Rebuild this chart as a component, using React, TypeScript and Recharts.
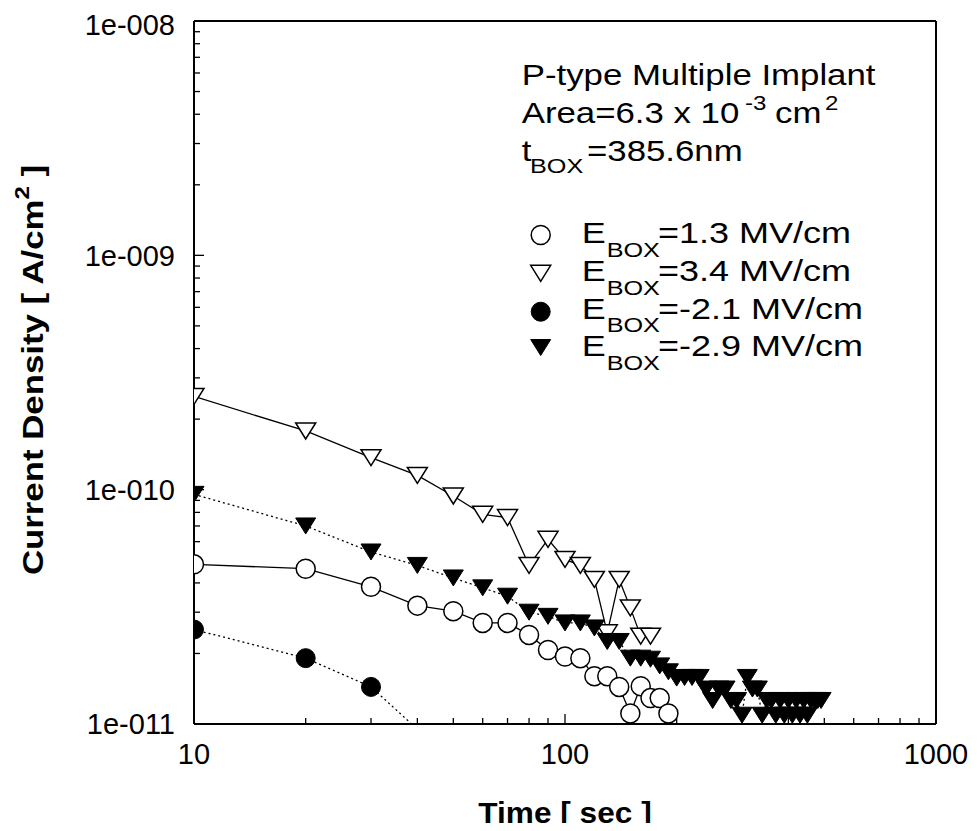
import React from 'react';
import { LineChart, Line, XAxis, YAxis } from 'recharts';

const FONT = '"Liberation Sans", Arial, Helvetica, sans-serif';

// ---- data (time in sec, current density in A/cm^2) ----
const t13 = [10, 20, 30, 40, 50, 60, 70, 80, 90, 100, 110, 120, 130, 140, 150, 160, 170, 180, 190];
const v13 = [4.8e-11, 4.6e-11, 3.85e-11, 3.2e-11, 3.03e-11, 2.7e-11, 2.7e-11, 2.4e-11, 2.07e-11, 1.94e-11,
  1.91e-11, 1.6e-11, 1.6e-11, 1.44e-11, 1.11e-11, 1.45e-11, 1.29e-11, 1.29e-11, 1.11e-11];

const t34 = [10, 20, 30, 40, 50, 60, 70, 80, 90, 100, 110, 120, 130, 140, 150, 160, 170];
const v34 = [2.5e-10, 1.78e-10, 1.37e-10, 1.15e-10, 9.4e-11, 7.85e-11, 7.6e-11, 4.75e-11, 6.14e-11, 5.04e-11,
  4.75e-11, 4.14e-11, 2.45e-11, 4.14e-11, 3.13e-11, 2.37e-11, 2.37e-11];

const tm21 = [10, 20, 30, 40];
const vm21 = [2.53e-11, 1.91e-11, 1.44e-11, 9.5e-12];

const tm29 = [10, 20, 30, 40, 50, 60, 70, 80, 90, 100, 110, 120, 130, 140, 150, 160, 170, 180, 190, 200,
  210, 220, 230, 240, 250, 260, 270, 280, 290, 300, 310, 320, 330, 340, 350, 360, 370, 380, 390, 400,
  410, 420, 430, 440, 450, 460, 470, 480, 490];
const vm29 = [9.55e-11, 7.0e-11, 5.42e-11, 4.75e-11, 4.2e-11, 3.81e-11, 3.51e-11, 3.0e-11, 2.88e-11, 2.7e-11,
  2.7e-11, 2.57e-11, 2.25e-11, 2.25e-11, 1.91e-11, 1.91e-11, 1.89e-11, 1.77e-11, 1.67e-11, 1.57e-11,
  1.58e-11, 1.58e-11, 1.58e-11, 1.41e-11, 1.26e-11, 1.41e-11, 1.41e-11, 1.26e-11, 1.26e-11, 1.09e-11,
  1.58e-11, 1.41e-11, 1.41e-11, 1.09e-11, 1.26e-11, 1.26e-11, 1.09e-11, 1.26e-11, 1.09e-11, 1.26e-11,
  1.09e-11, 1.26e-11, 1.09e-11, 1.26e-11, 1.09e-11, 1.26e-11, 1.26e-11, 1.26e-11, 1.26e-11];

const xDomain = [10, 1000];
const yDomain = [1e-11, 1e-8];
const xTicks = [10, 100, 1000];
const xMajorTicks = [100];
const xMinorTicks = [20, 30, 40, 50, 60, 70, 80, 90, 200, 300, 400, 500, 600, 700, 800, 900];
const yTicks = [1e-11, 1e-10, 1e-9, 1e-8];
const yMajorTicks = [1e-10, 1e-9];
const yMinorTicks = [
  2e-11, 3e-11, 4e-11, 5e-11, 6e-11, 7e-11, 8e-11, 9e-11,
  2e-10, 3e-10, 4e-10, 5e-10, 6e-10, 7e-10, 8e-10, 9e-10,
  2e-9, 3e-9, 4e-9, 5e-9, 6e-9, 7e-9, 8e-9, 9e-9,
];

const legendLabels = ['=1.3 MV/cm', '=3.4 MV/cm', '=-2.1 MV/cm', '=-2.9 MV/cm'];

const rows = (t: number[], v: number[]) => t.map((x, i) => ({ t: x, v: v[i] }));
const d13 = rows(t13, v13);
const d34 = rows(t34, v34);
const dm21 = rows(tm21, vm21);
const dm29 = rows(tm29, vm29);
const frameData = rows(xDomain, yDomain);

// ---- marker shapes ----
const triPts = (cx: number, cy: number) => `${cx - 10},${cy - 8} ${cx + 10},${cy - 8} ${cx},${cy + 8}`;

const shapeOpenCircle = (cx: number, cy: number, key?: any) => (
  <circle key={key} cx={cx} cy={cy} r={9.5} fill="#fff" stroke="#000" strokeWidth={1.5} />
);
const shapeFilledCircle = (cx: number, cy: number, key?: any) => (
  <circle key={key} cx={cx} cy={cy} r={9.5} fill="#000" stroke="#000" strokeWidth={1} />
);
const shapeOpenTri = (cx: number, cy: number, key?: any) => (
  <polygon key={key} points={triPts(cx, cy)} fill="#fff" stroke="#000" strokeWidth={1.5} strokeLinejoin="miter" />
);
const shapeFilledTri = (cx: number, cy: number, key?: any) => (
  <polygon key={key} points={triPts(cx, cy)} fill="#000" stroke="#000" strokeWidth={1} />
);

const makeDot = (fn: (cx: number, cy: number, key?: any) => React.ReactElement) => (p: any) => {
  const { cx, cy, index, payload } = p;
  if (cx == null || cy == null || isNaN(cx) || isNaN(cy) || (payload && payload.v < yDomain[0])) {
    return <g key={`e${index}`} />;
  }
  return fn(cx, cy, `d${index}`);
};

const yFmt = (v: number) => {
  const e = Math.round(Math.log10(v));
  return `1e-${String(-e).padStart(3, '0')}`;
};
const blank = () => '';

const W = 969;
const H = 815;
const SX = 1.2;

const tickStyle = { fontSize: 29, fill: '#000', fontFamily: FONT };
const noLabel = { fontSize: 1, fill: 'none' };

const ST = ({ x, y, size, sx = SX, children, ...rest }: any) => (
  <g transform={`translate(${x} ${y}) scale(${sx} 1)`}>
    <text x={0} y={0} fontSize={size} fill="#000" {...rest}>{children}</text>
  </g>
);

const tickLineStyle = { stroke: '#000', strokeWidth: 1.3 };

export default function App() {
  const legendSymbols = [shapeOpenCircle, shapeOpenTri, shapeFilledCircle, shapeFilledTri];
  const symY = [227, 265.3, 303.7, 339.5];
  const rowBase = [235, 273, 310.5, 348];
  return (
    <div style={{ position: 'relative', width: W, height: H, fontFamily: FONT }}>
      <LineChart width={W} height={H} margin={{ top: 13, right: 41, left: 106, bottom: 39 }}>
        <XAxis xAxisId="x" dataKey="t" type="number" scale="log" domain={xDomain} allowDataOverflow
          ticks={xTicks} tickFormatter={(v: number) => String(v)} tick={tickStyle} tickLine={false}
          tickSize={6} tickMargin={13} axisLine={{ stroke: '#000', strokeWidth: 2 }} height={60} />
        <XAxis xAxisId="xminor" dataKey="t" type="number" scale="log" domain={xDomain} allowDataOverflow
          ticks={xMinorTicks} mirror tick={noLabel} tickFormatter={blank} tickSize={5} tickLine={tickLineStyle}
          axisLine={false} height={1} />
        <XAxis xAxisId="xmajor" dataKey="t" type="number" scale="log" domain={xDomain} allowDataOverflow
          ticks={xMajorTicks} mirror tick={noLabel} tickFormatter={blank} tickSize={10} tickLine={tickLineStyle}
          axisLine={false} height={1} />
        <XAxis xAxisId="xtop" dataKey="t" orientation="top" type="number" scale="log" domain={xDomain} allowDataOverflow
          ticks={xTicks} mirror tick={false} tickLine={false} axisLine={{ stroke: '#000', strokeWidth: 2 }} height={1} />
        <YAxis yAxisId="y" type="number" scale="log" domain={yDomain} allowDataOverflow ticks={yTicks}
          tickFormatter={yFmt} tick={tickStyle} tickLine={false} tickSize={6} tickMargin={13}
          axisLine={{ stroke: '#000', strokeWidth: 2 }} width={80} />
        <YAxis yAxisId="yminor" type="number" scale="log" domain={yDomain} allowDataOverflow ticks={yMinorTicks}
          mirror tick={noLabel} tickFormatter={blank} tickSize={5} tickLine={tickLineStyle} axisLine={false} width={1} />
        <YAxis yAxisId="ymajor" type="number" scale="log" domain={yDomain} allowDataOverflow ticks={yMajorTicks}
          mirror tick={noLabel} tickFormatter={blank} tickSize={10} tickLine={tickLineStyle} axisLine={false} width={1} />
        <YAxis yAxisId="yright" orientation="right" type="number" scale="log" domain={yDomain} allowDataOverflow
          ticks={yTicks} mirror tick={false} tickLine={false} axisLine={{ stroke: '#000', strokeWidth: 2 }} width={1} />

        {/* invisible carriers so the tick / frame axes get rendered */}
        <Line xAxisId="xminor" yAxisId="yminor" data={frameData} dataKey="v" stroke="none" dot={false}
          activeDot={false} isAnimationActive={false} />
        <Line xAxisId="xmajor" yAxisId="ymajor" data={frameData} dataKey="v" stroke="none" dot={false}
          activeDot={false} isAnimationActive={false} />
        <Line xAxisId="xtop" yAxisId="yright" data={frameData} dataKey="v" stroke="none" dot={false}
          activeDot={false} isAnimationActive={false} />

        <Line xAxisId="x" yAxisId="y" data={d13} dataKey="v" type="linear" stroke="#000" strokeWidth={1.3}
          dot={makeDot(shapeOpenCircle)} activeDot={false} isAnimationActive={false} />
        <Line xAxisId="x" yAxisId="y" data={d34} dataKey="v" type="linear" stroke="#000" strokeWidth={1.3}
          dot={makeDot(shapeOpenTri)} activeDot={false} isAnimationActive={false} />
        <Line xAxisId="x" yAxisId="y" data={dm21} dataKey="v" type="linear" stroke="#000" strokeWidth={1.3}
          strokeDasharray="2 3" dot={makeDot(shapeFilledCircle)} activeDot={false} isAnimationActive={false} />
        <Line xAxisId="x" yAxisId="y" data={dm29} dataKey="v" type="linear" stroke="#000" strokeWidth={1.3}
          strokeDasharray="2 3" dot={makeDot(shapeFilledTri)} activeDot={false} isAnimationActive={false} />
      </LineChart>
      <svg
        width={W}
        height={H}
        style={{ position: 'absolute', left: 0, top: 0, overflow: 'visible', pointerEvents: 'none' }}
        fontFamily={FONT}
      >
        {/* annotation block */}
        <ST x={513.7} y={77} size={29}>P-type Multiple Implant</ST>
        <ST x={513.7} y={115.3} size={29}>Area=6.3 x 10</ST>
        <ST x={737} y={102} size={20}>-3</ST>
        <ST x={767} y={115.3} size={29}>cm</ST>
        <ST x={817} y={102} size={20}>2</ST>
        <ST x={513.7} y={153} size={29}>t</ST>
        <ST x={522} y={165} size={21}>BOX</ST>
        <ST x={579} y={153} size={29}>=385.6nm</ST>

        {/* legend */}
        {legendLabels.map((lab, i) => (
          <g key={lab}>
            {legendSymbols[i](532.7, symY[i])}
            <ST x={573.7} y={rowBase[i]} size={30}>E</ST>
            <ST x={598.7} y={rowBase[i] + 13.7} size={21}>BOX</ST>
            <ST x={650} y={rowBase[i]} size={30}>{lab}</ST>
          </g>
        ))}

        {/* axis titles */}
        <g transform="translate(557 815) scale(1.09 1)">
          <text x={0} y={0} fontSize={29} fontWeight="bold" textAnchor="middle" fill="#000">Time [ sec ]</text>
        </g>
        <g transform="translate(35 362) rotate(-90) scale(1.2 1)">
          <text x={0} y={0} fontSize={29} fontWeight="bold" textAnchor="middle" fill="#000">
            Current Density [  A/cm<tspan fontSize={20} dy={-14}>2</tspan><tspan dy={14}> ]</tspan>
          </text>
        </g>
      </svg>
    </div>
  );
}
